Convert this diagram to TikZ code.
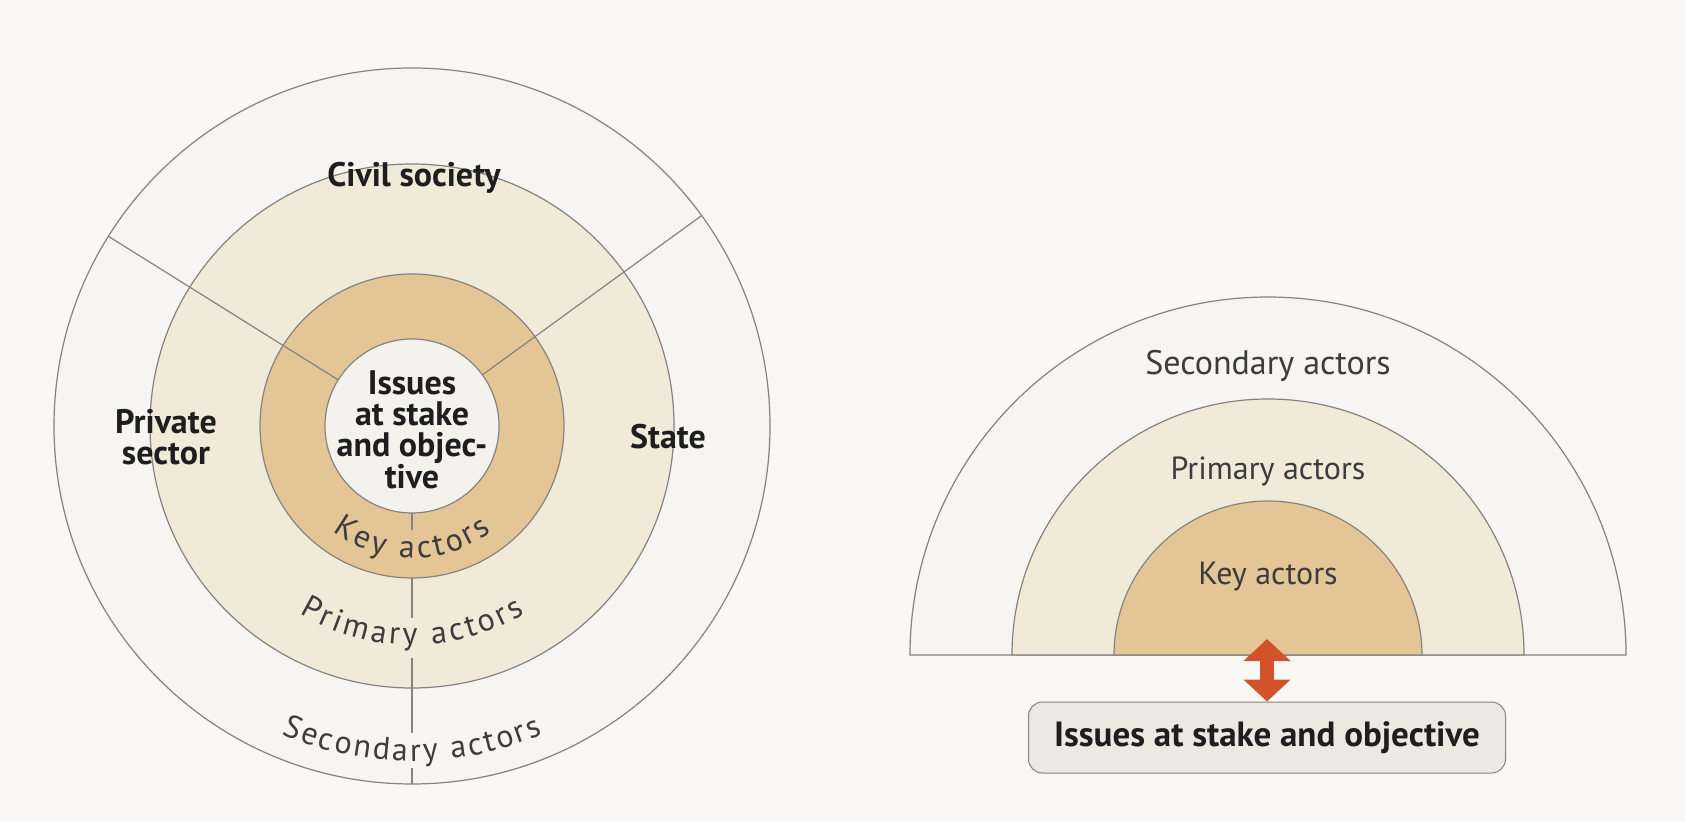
\documentclass[tikz,border=0pt]{standalone}
\usepackage{fontspec}
\setsansfont{PT Sans}
\renewcommand{\familydefault}{\sfdefault}
\usetikzlibrary{decorations.text,arrows.meta}
\definecolor{bg}{HTML}{F9F8F5}
\definecolor{outerfill}{HTML}{F6F5F1}
\definecolor{primfill}{HTML}{F0EBD9}
\definecolor{keyfill}{HTML}{E4C595}
\definecolor{innerfill}{HTML}{F4F2EC}
\definecolor{ringline}{HTML}{85837F}
\definecolor{arrowc}{HTML}{D2532A}
\definecolor{boxfill}{HTML}{ECE9E3}
\definecolor{txt}{HTML}{1E1E1E}
\definecolor{lighttxt}{HTML}{3C3C3C}
\begin{document}
\begin{tikzpicture}[x=1pt,y=1pt,
  ring/.style={draw=ringline, line width=1.2pt},
  divider/.style={draw=ringline, line width=1.2pt},
  boldlabel/.style={font=\fontsize{34}{31}\selectfont\bfseries, text=txt, align=center},
  reglabel/.style={font=\fontsize{32}{32}\selectfont, text=lighttxt},
  arctext/.style={decorate, decoration={text along path, text align={fit to path}, text={#1}}},
]
\useasboundingbox (0,0) rectangle (1685,822);
\fill[bg] (0,0) rectangle (1685,822);

% ---------- left: concentric circles ----------
\coordinate (C1) at (412,396);
\filldraw[ring, fill=outerfill] (C1) circle[radius=358];
\filldraw[ring, fill=primfill] (C1) circle[radius=262];
\filldraw[ring, fill=keyfill] (C1) circle[radius=152];
\filldraw[ring, fill=innerfill] (C1) circle[radius=87];

\draw[divider] ([shift={(148:87)}]C1) -- ([shift={(148:358)}]C1);
\draw[divider] ([shift={(36:87)}]C1) -- ([shift={(36:358)}]C1);
\draw[divider] ([shift={(270:87)}]C1) -- ([shift={(270:104)}]C1);
\draw[divider] ([shift={(270:152)}]C1) -- ([shift={(270:192)}]C1);
\draw[divider] ([shift={(270:232)}]C1) -- ([shift={(270:307)}]C1);
\draw[divider] ([shift={(270:342)}]C1) -- ([shift={(270:358)}]C1);

\path[arctext={|\fontsize{32}{32}\selectfont\color{lighttxt}|Key actors}]
  ([shift={(233:132)}]C1) arc[start angle=233, end angle=307, radius=132];
\path[arctext={|\fontsize{32}{32}\selectfont\color{lighttxt}|Primary actors}]
  ([shift={(239:219)}]C1) arc[start angle=239, end angle=301, radius=219];
\path[arctext={|\fontsize{32}{32}\selectfont\color{lighttxt}|Secondary actors}]
  ([shift={(247:335)}]C1) arc[start angle=247, end angle=293, radius=335];

\node[boldlabel] (civil) at (414,644) {Civil society};
\node[boldlabel] (private) at (166,385) {Private\\sector};
\node[boldlabel] (state) at (668,385) {State};
\node[boldlabel] (issues) at (412,392) {Issues\\at stake\\and objec-\\tive};

% ---------- right: semicircles ----------
\coordinate (C2) at (1268,167);
\filldraw[ring, fill=outerfill] ([shift={(0:358)}]C2) arc[start angle=0, end angle=180, radius=358] -- cycle;
\filldraw[ring, fill=primfill] ([shift={(0:256)}]C2) arc[start angle=0, end angle=180, radius=256] -- cycle;
\filldraw[ring, fill=keyfill] ([shift={(0:154)}]C2) arc[start angle=0, end angle=180, radius=154] -- cycle;

\node[reglabel, font=\fontsize{34}{34}\selectfont] (sec) at (1268,456) {Secondary actors};
\node[reglabel] (prim) at (1268,351) {Primary actors};
\node[reglabel] (key) at (1268,245) {Key actors};

\node[boldlabel, font=\fontsize{35}{35}\selectfont\bfseries, draw=ringline, line width=1pt, fill=boxfill, rounded corners=14pt,
      minimum width=477, minimum height=71] (issuebox) at (1267,84.5) {Issues at stake and objective};
\coordinate (arrtop) at (1267,183);
\draw[arrowc, line width=14pt, {Triangle[length=22pt,width=46pt]}-{Triangle[length=22pt,width=46pt]}]
  (issuebox.north) -- (arrtop);
\end{tikzpicture}
\end{document}
